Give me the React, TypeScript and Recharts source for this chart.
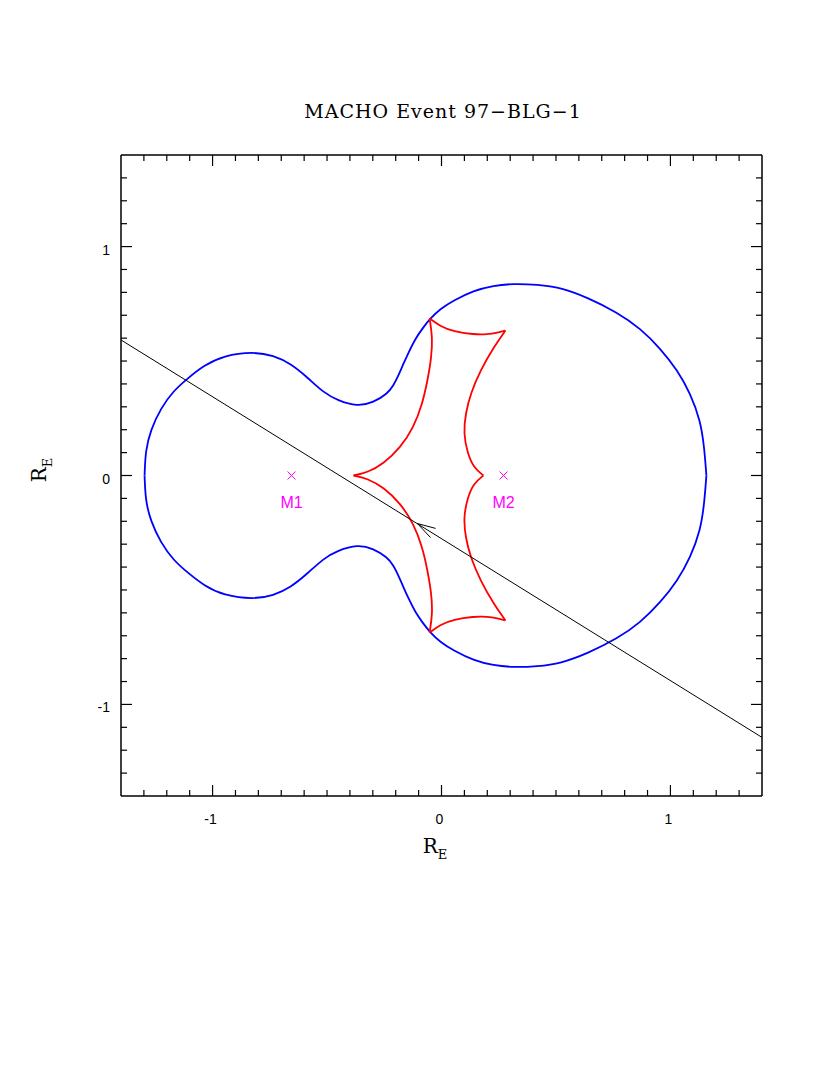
import { ComposedChart, Line, Scatter, XAxis, YAxis } from "recharts";

// critical curve (blue), upper and lower halves, in Einstein radii
const criticalUpper = [
  { x: -1.297, y: 0 }, { x: -1.293, y: 0.109 }, { x: -1.271, y: 0.197 }, { x: -1.227, y: 0.293 },
  { x: -1.17, y: 0.371 }, { x: -1.109, y: 0.424 }, { x: -1.039, y: 0.48 }, { x: -0.952, y: 0.524 },
  { x: -0.821, y: 0.541 }, { x: -0.734, y: 0.524 }, { x: -0.659, y: 0.489 }, { x: -0.585, y: 0.428 },
  { x: -0.515, y: 0.362 }, { x: -0.454, y: 0.328 }, { x: -0.367, y: 0.301 }, { x: -0.297, y: 0.319 },
  { x: -0.236, y: 0.358 }, { x: -0.21, y: 0.393 }, { x: -0.188, y: 0.437 }, { x: -0.166, y: 0.489 },
  { x: -0.144, y: 0.537 }, { x: -0.114, y: 0.598 }, { x: -0.083, y: 0.642 }, { x: -0.052, y: 0.683 },
  { x: -0.004, y: 0.729 }, { x: 0.052, y: 0.764 },
  { x: 0.14, y: 0.808 }, { x: 0.227, y: 0.83 }, { x: 0.314, y: 0.838 }, { x: 0.419, y: 0.834 },
  { x: 0.52, y: 0.821 }, { x: 0.638, y: 0.777 }, { x: 0.769, y: 0.712 }, { x: 0.869, y: 0.642 },
  { x: 0.956, y: 0.555 }, { x: 1.031, y: 0.459 }, { x: 1.087, y: 0.358 }, { x: 1.131, y: 0.24 },
  { x: 1.148, y: 0.122 }, { x: 1.157, y: 0 },
];
const criticalLower = [
  { x: -1.297, y: 0 }, { x: -1.293, y: -0.109 }, { x: -1.271, y: -0.197 }, { x: -1.227, y: -0.293 },
  { x: -1.17, y: -0.371 }, { x: -1.109, y: -0.424 }, { x: -1.039, y: -0.48 }, { x: -0.952, y: -0.524 },
  { x: -0.821, y: -0.541 }, { x: -0.734, y: -0.524 }, { x: -0.659, y: -0.489 }, { x: -0.585, y: -0.428 },
  { x: -0.515, y: -0.362 }, { x: -0.454, y: -0.328 }, { x: -0.367, y: -0.301 }, { x: -0.297, y: -0.319 },
  { x: -0.236, y: -0.358 }, { x: -0.21, y: -0.393 }, { x: -0.188, y: -0.437 }, { x: -0.166, y: -0.489 },
  { x: -0.144, y: -0.537 }, { x: -0.114, y: -0.598 }, { x: -0.083, y: -0.642 }, { x: -0.052, y: -0.683 },
  { x: -0.004, y: -0.729 }, { x: 0.052, y: -0.764 },
  { x: 0.14, y: -0.808 }, { x: 0.227, y: -0.83 }, { x: 0.314, y: -0.838 }, { x: 0.419, y: -0.834 },
  { x: 0.52, y: -0.821 }, { x: 0.638, y: -0.777 }, { x: 0.769, y: -0.712 }, { x: 0.869, y: -0.642 },
  { x: 0.956, y: -0.555 }, { x: 1.031, y: -0.459 }, { x: 1.087, y: -0.358 }, { x: 1.131, y: -0.24 },
  { x: 1.148, y: -0.122 }, { x: 1.157, y: 0 },
];

// caustic (red), one array per fold between cusps
const causticTop = [
  { x: -0.052, y: 0.686 }, { x: -0.004, y: 0.651 }, { x: 0.052, y: 0.629 }, { x: 0.14, y: 0.616 },
  { x: 0.201, y: 0.616 }, { x: 0.245, y: 0.624 }, { x: 0.279, y: 0.633 },
];
const causticRightUpper = [
  { x: 0.279, y: 0.633 }, { x: 0.227, y: 0.559 }, { x: 0.17, y: 0.459 }, { x: 0.127, y: 0.358 },
  { x: 0.105, y: 0.271 }, { x: 0.096, y: 0.183 }, { x: 0.114, y: 0.096 }, { x: 0.14, y: 0.035 },
  { x: 0.183, y: 0 },
];
const causticRightLower = [
  { x: 0.183, y: 0 }, { x: 0.14, y: -0.035 }, { x: 0.114, y: -0.096 }, { x: 0.096, y: -0.183 },
  { x: 0.105, y: -0.271 }, { x: 0.127, y: -0.358 }, { x: 0.17, y: -0.459 }, { x: 0.227, y: -0.559 },
  { x: 0.279, y: -0.633 },
];
const causticBottom = [
  { x: 0.279, y: -0.633 }, { x: 0.245, y: -0.624 }, { x: 0.201, y: -0.616 }, { x: 0.14, y: -0.616 },
  { x: 0.052, y: -0.629 }, { x: -0.004, y: -0.651 }, { x: -0.052, y: -0.686 },
];
const causticLeftLower = [
  { x: -0.052, y: -0.686 }, { x: -0.039, y: -0.603 }, { x: -0.044, y: -0.515 }, { x: -0.061, y: -0.415 },
  { x: -0.083, y: -0.314 }, { x: -0.122, y: -0.21 }, { x: -0.179, y: -0.122 }, { x: -0.253, y: -0.052 },
  { x: -0.323, y: -0.013 }, { x: -0.384, y: 0 },
];
const causticLeftUpper = [
  { x: -0.384, y: 0 }, { x: -0.323, y: 0.013 }, { x: -0.253, y: 0.052 }, { x: -0.179, y: 0.122 },
  { x: -0.122, y: 0.21 }, { x: -0.083, y: 0.314 }, { x: -0.061, y: 0.415 }, { x: -0.044, y: 0.515 },
  { x: -0.039, y: 0.603 }, { x: -0.052, y: 0.686 },
];

// source trajectory and its arrow head (barb, tip, barb)
const trajectory = [{ x: -1.4, y: 0.592 }, { x: 1.4, y: -1.144 }];
const arrowHead = [{ x: -0.026, y: -0.231 }, { x: -0.105, y: -0.21 }, { x: -0.048, y: -0.271 }];

// lens masses
const masses = [
  { x: -0.655, y: 0, name: "M1" },
  { x: 0.271, y: 0, name: "M2" },
];

const axisTicks = [
  -1.3, -1.2, -1.1, -1, -0.9, -0.8, -0.7, -0.6, -0.5, -0.4, -0.3, -0.2, -0.1, 0,
  0.1, 0.2, 0.3, 0.4, 0.5, 0.6, 0.7, 0.8, 0.9, 1, 1.1, 1.2, 1.3,
];
const majorTicks = [-1, 0, 1];
const tickLabels = ["-1", "0", "1"];

const MINOR = 6;
const MAJOR = 11;
const tickFont = { fontFamily: "'Liberation Sans', Arial, sans-serif", fontSize: 14, fill: "#000" };

const BottomTick = ({ x, y, payload }: any) => {
  const i = majorTicks.indexOf(payload.value);
  return (
    <g>
      <line x1={x} x2={x} y1={y} y2={y - (i >= 0 ? MAJOR : MINOR)} stroke="#000" strokeWidth={1.2} />
      {i >= 0 && (
        <text x={x - 2} y={y + 28} textAnchor="middle" {...tickFont}>{tickLabels[i]}</text>
      )}
    </g>
  );
};
const TopTick = ({ x, y, payload }: any) => {
  const major = majorTicks.includes(payload.value);
  return <line x1={x} x2={x} y1={y} y2={y + (major ? MAJOR : MINOR)} stroke="#000" strokeWidth={1.2} />;
};
const LeftTick = ({ x, y, payload }: any) => {
  const i = majorTicks.indexOf(payload.value);
  return (
    <g>
      <line x1={x} x2={x + (i >= 0 ? MAJOR : MINOR)} y1={y} y2={y} stroke="#000" strokeWidth={1.2} />
      {i >= 0 && (
        <text x={x - 11} y={y + 8} textAnchor="end" {...tickFont}>{tickLabels[i]}</text>
      )}
    </g>
  );
};
const RightTick = ({ x, y, payload }: any) => {
  const major = majorTicks.includes(payload.value);
  return <line x1={x} x2={x - (major ? MAJOR : MINOR)} y1={y} y2={y} stroke="#000" strokeWidth={1.2} />;
};

const MassMark = ({ cx, cy, payload }: any) => (
  <g>
    <line x1={cx - 4} x2={cx + 4} y1={cy - 4} y2={cy + 4} stroke="#ff00ff" strokeWidth={1} />
    <line x1={cx - 4} x2={cx + 4} y1={cy + 4} y2={cy - 4} stroke="#ff00ff" strokeWidth={1} />
    <text x={cx} y={cy + 32} textAnchor="middle" fontFamily="'Liberation Sans', Arial, sans-serif" fontSize={16} fill="#ff00ff">
      {payload.name}
    </text>
  </g>
);

const serif = "'DejaVu Serif', 'Liberation Serif', serif";

export default function App() {
  const blue = { stroke: "#0000ff", strokeWidth: 1.8 };
  const red = { stroke: "#ff0000", strokeWidth: 1.8 };
  const common = { type: "basis" as const, dataKey: "y", dot: false, isAnimationActive: false, xAxisId: "b", yAxisId: "l" };
  return (
    <div style={{ position: "relative", width: 814, height: 1000 }}>
      <ComposedChart width={814} height={1000} margin={{ top: 137, right: 50, bottom: 162, left: 63 }}>
        <XAxis xAxisId="b" dataKey="x" type="number" domain={[-1.4, 1.4]} allowDataOverflow ticks={axisTicks} interval={0}
          tickSize={0} tickMargin={0} tickLine={false} height={50} tick={<BottomTick />} axisLine={{ stroke: "#000", strokeWidth: 1.5 }} />
        <XAxis xAxisId="t" orientation="top" dataKey="x" type="number" domain={[-1.4, 1.4]} allowDataOverflow ticks={axisTicks} interval={0}
          tickSize={0} tickMargin={0} tickLine={false} height={10} tick={<TopTick />} axisLine={{ stroke: "#000", strokeWidth: 1.5 }} />
        <YAxis yAxisId="l" dataKey="y" type="number" domain={[-1.4, 1.4]} allowDataOverflow ticks={axisTicks} interval={0}
          tickSize={0} tickMargin={0} tickLine={false} width={50} tick={<LeftTick />} axisLine={{ stroke: "#000", strokeWidth: 1.5 }} />
        <YAxis yAxisId="r" orientation="right" dataKey="y" type="number" domain={[-1.4, 1.4]} allowDataOverflow ticks={axisTicks} interval={0}
          tickSize={0} tickMargin={0} tickLine={false} width={10} tick={<RightTick />} axisLine={{ stroke: "#000", strokeWidth: 1.5 }} />

        <Line {...common} data={criticalUpper} {...blue} />
        <Line {...common} data={criticalLower} {...blue} />
        <Line {...common} data={causticTop} {...red} />
        <Line {...common} data={causticRightUpper} {...red} />
        <Line {...common} data={causticRightLower} {...red} />
        <Line {...common} data={causticBottom} {...red} />
        <Line {...common} data={causticLeftLower} {...red} />
        <Line {...common} data={causticLeftUpper} {...red} />
        <Line {...common} type="linear" data={trajectory} stroke="#000" strokeWidth={1} />
        <Line {...common} type="linear" data={arrowHead} stroke="#000" strokeWidth={1} />
        <Scatter data={masses} dataKey="y" xAxisId="b" yAxisId="l" isAnimationActive={false} shape={<MassMark />} />
      </ComposedChart>
      <svg width={814} height={1000} style={{ position: "absolute", left: 0, top: 0, pointerEvents: "none" }}>
        <text x={435} y={110} textAnchor="middle" fontFamily={serif} fontSize={19} letterSpacing={1} fill="#000">
          MACHO Event 97−BLG−1
        </text>
        <text x={427} y={845} textAnchor="middle" fontFamily={serif} fontSize={20} fill="#000">
          R<tspan fontSize={13} dy={6}>E</tspan>
        </text>
        <text transform="translate(38,462) rotate(-90)" textAnchor="middle" fontFamily={serif} fontSize={20} fill="#000">
          R<tspan fontSize={13} dy={6}>E</tspan>
        </text>
      </svg>
    </div>
  );
}
